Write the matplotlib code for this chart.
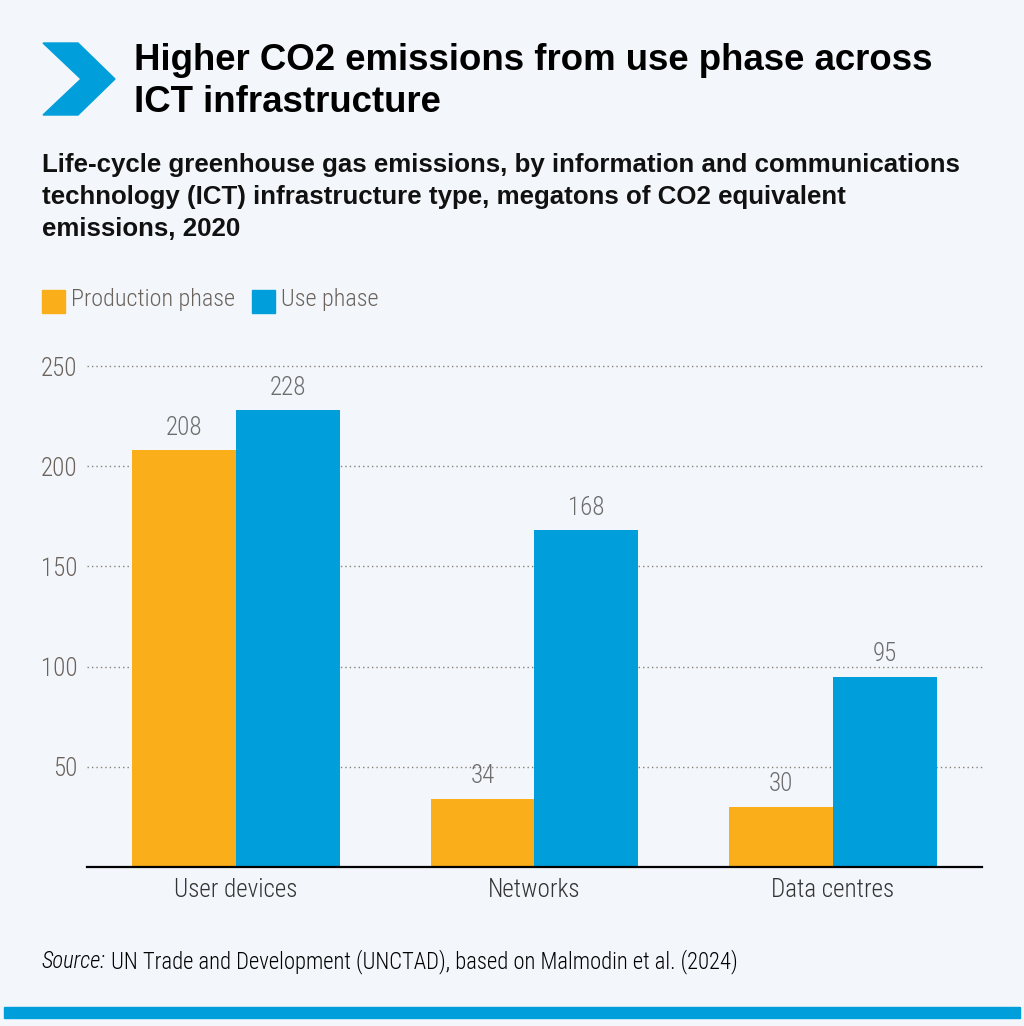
import numpy as np
import matplotlib
matplotlib.use('Agg')
import matplotlib.pyplot as plt
from matplotlib.patches import Polygon, Rectangle

# Datos
categorias = ['User devices', 'Networks', 'Data centres']
produccion = [208, 34, 30]
uso = [228, 168, 95]
ticks_y = [50, 100, 150, 200, 250]

FONDO = '#f3f7fb'
NARANJA = '#f9ae1a'
AZUL = '#009edb'
GRIS = '#6b625c'
W, H = 1024, 1026

NARROW = ['Roboto Condensed', 'DejaVu Sans']
plt.rcParams['font.family'] = ['Liberation Sans', 'DejaVu Sans']

fig = plt.figure(figsize=(W / 100, H / 100), dpi=100, facecolor=FONDO)

def fx(px):
    return px / W

def fy(py):
    return 1 - py / H

# Chevron azul
chevron = Polygon([(fx(43), fy(43)), (fx(78), fy(43)), (fx(115), fy(79)),
                   (fx(78), fy(115)), (fx(43), fy(115)), (fx(81), fy(79))],
                  closed=True, transform=fig.transFigure, color=AZUL)
fig.patches.append(chevron)

# Títulos
fig.text(fx(134), fy(60), 'Higher CO2 emissions from use phase across',
         fontsize=26.4, fontweight='bold', color='black', va='center')
fig.text(fx(134), fy(103), 'ICT infrastructure',
         fontsize=26.4, fontweight='bold', color='black', va='center')
subtitulo = ['Life-cycle greenhouse gas emissions, by information and communications',
             'technology (ICT) infrastructure type, megatons of CO2 equivalent',
             'emissions, 2020']
for i, linea in enumerate(subtitulo):
    fig.text(fx(42), fy(165 + 32 * i), linea, fontsize=18.6, fontweight='bold',
             color='#111111', va='center')

# Leyenda
fig.patches.append(Rectangle((fx(42), fy(313)), fx(23), 23 / H,
                             transform=fig.transFigure, color=NARANJA))
fig.text(fx(71), fy(299), 'Production phase', fontsize=17.4, color=GRIS,
         va='center', family=NARROW, fontweight=300)
fig.patches.append(Rectangle((fx(252), fy(313)), fx(23), 23 / H,
                             transform=fig.transFigure, color=AZUL))
fig.text(fx(281), fy(299), 'Use phase', fontsize=17.4, color=GRIS,
         va='center', family=NARROW, fontweight=300)

# Gráfico de barras
ax = fig.add_axes([fx(87), fy(867), fx(982 - 87), (867 - 366) / H])
ax.set_facecolor(FONDO)
x = np.arange(len(categorias))
ancho = 0.348
b1 = ax.bar(x - ancho / 2, produccion, ancho, color=NARANJA, zorder=3)
b2 = ax.bar(x + ancho / 2, uso, ancho, color=AZUL, zorder=3)

for barras, vals in ((b1, produccion), (b2, uso)):
    for b, v in zip(barras, vals):
        ax.annotate(str(v), (b.get_x() + b.get_width() / 2, v),
                    xytext=(0, 7.5), textcoords='offset points',
                    ha='center', va='bottom', fontsize=18, color='#6d6d6d',
                    family=NARROW, fontweight=300)

ax.set_xlim(-0.5, 2.5)
ax.set_ylim(0, 250)
for t in ticks_y:
    ax.axhline(t, color='#8a7f78', lw=1.0, linestyle=(0, (1, 2.2)), zorder=1,
               clip_on=False)
ax.set_yticks(ticks_y)
ax.set_yticklabels([str(t) for t in ticks_y], fontsize=18, color=GRIS,
                   family=NARROW, fontweight=300)
ax.set_xticks(x)
ax.set_xticklabels(categorias, fontsize=18, color='#333333', family=NARROW,
                   fontweight=300)
ax.tick_params(axis='y', length=0, pad=7)
ax.tick_params(axis='x', length=0, pad=8)
for lado in ('top', 'right', 'left'):
    ax.spines[lado].set_visible(False)
ax.spines['bottom'].set_color('black')
ax.spines['bottom'].set_linewidth(1.6)
ax.spines['bottom'].set_zorder(4)

# Fuente
src = fig.text(fx(42), fy(962), 'Source:', fontsize=16.3, style='italic',
               color='black', va='center', family=NARROW, fontweight=300)
fig.canvas.draw()
bb = src.get_window_extent()
fig.text((bb.x1 + 5) / W, fy(962),
         'UN Trade and Development (UNCTAD), based on Malmodin et al. (2024)',
         fontsize=16.3, color='black', va='center', family=NARROW, fontweight=300)

# Barra inferior
fig.patches.append(Rectangle((fx(4), fy(1018)), fx(1016), 11 / H,
                             transform=fig.transFigure, color=AZUL))

fig.savefig('out.png', dpi=100, facecolor=FONDO)
